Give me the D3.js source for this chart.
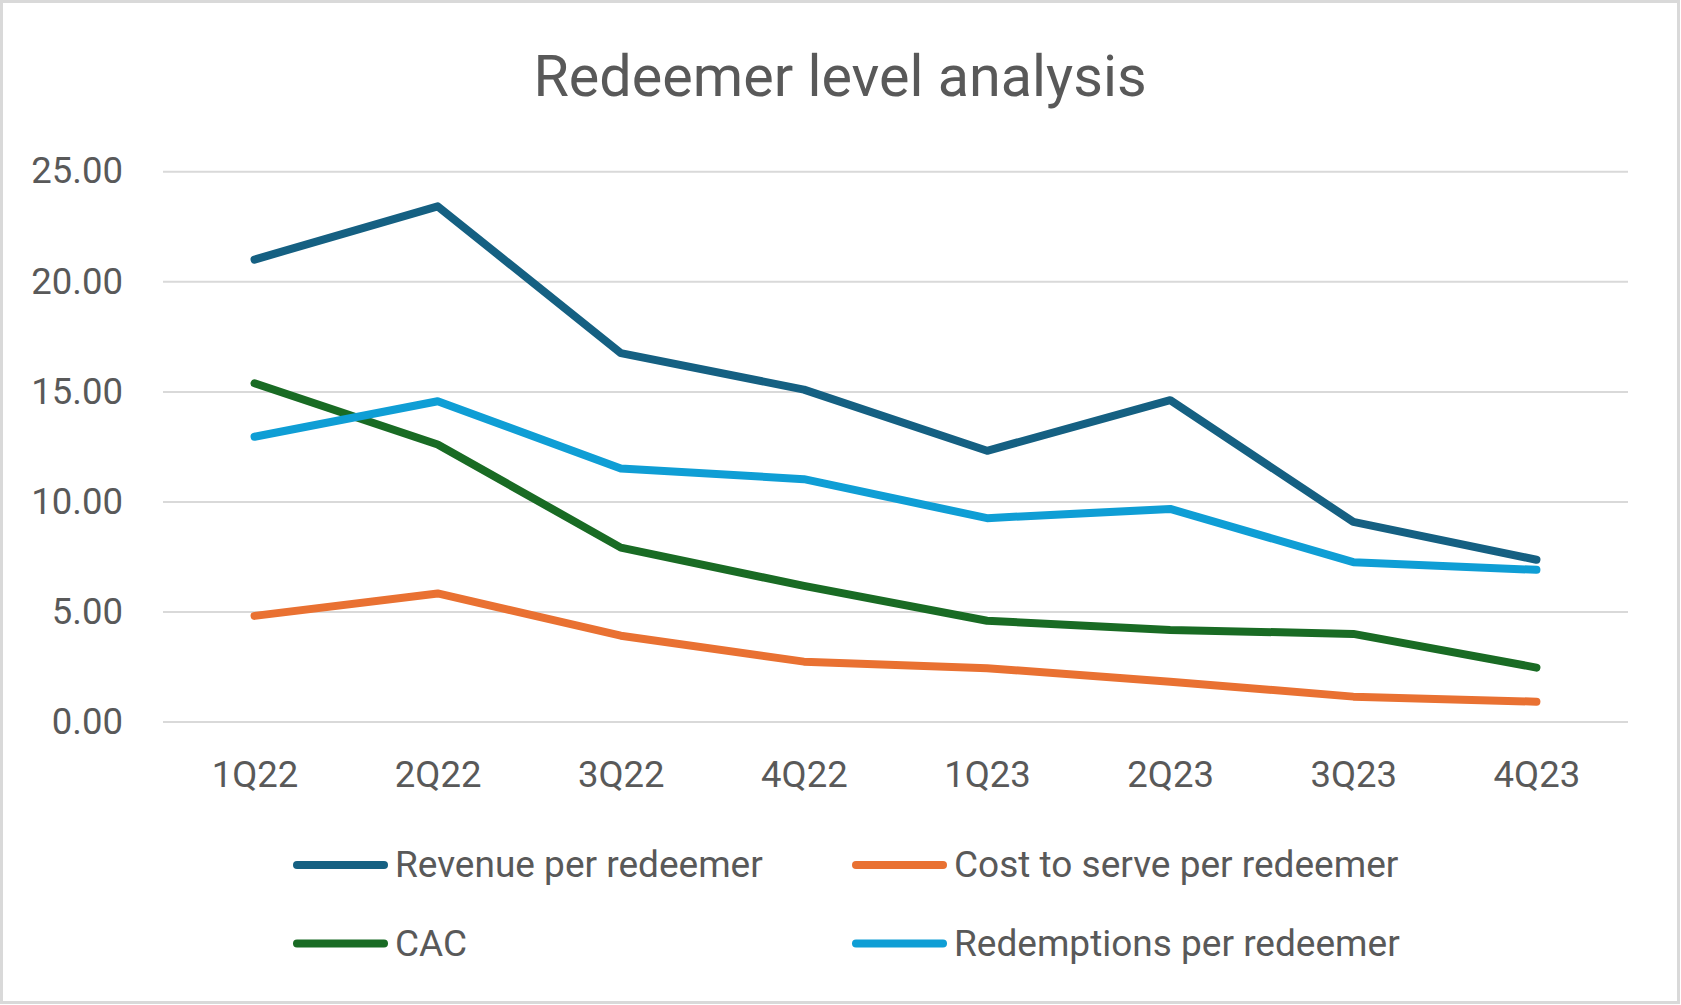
<!DOCTYPE html>
<html>
<head>
<meta charset="utf-8">
<script src="https://cdn.jsdelivr.net/npm/d3@7"></script>
<style>
  html, body { margin: 0; padding: 0; background: #fff; }
  svg { display: block; font-family: Roboto, "Noto Sans", sans-serif; }
</style>
</head>
<body>
<svg id="chart" width="1681" height="1005"></svg>
<script>
// quarters on the x axis
var quarters = ["1Q22", "2Q22", "3Q22", "4Q22", "1Q23", "2Q23", "3Q23", "4Q23"];

// series values
var revenuePerRedeemer = [20.99, 23.41, 16.74, 15.08, 12.30, 14.60, 9.07, 7.35];
var costToServe = [4.80, 5.82, 3.90, 2.72, 2.42, 1.81, 1.13, 0.90];
var cac = [15.37, 12.59, 7.90, 6.16, 4.58, 4.16, 3.98, 2.45];
var redemptionsPerRedeemer = [12.94, 14.55, 11.50, 11.01, 9.24, 9.66, 7.24, 6.89];

var seriesNames = ["Revenue per redeemer", "Cost to serve per redeemer", "CAC", "Redemptions per redeemer"];
var yTicks = [0, 5, 10, 15, 20, 25];

function drawChart()
{
    var svg = d3.select("#chart");
    const W = 1681, H = 1005;
    const left = 163, right = 1628, top = 171.3, bottom = 721.5;
    const textColor = "#595959";

    var series = [
        {name: seriesNames[0], values: revenuePerRedeemer, color: "#156082"},
        {name: seriesNames[1], values: costToServe, color: "#E97132"},
        {name: seriesNames[2], values: cac, color: "#196B24"},
        {name: seriesNames[3], values: redemptionsPerRedeemer, color: "#0F9ED5"}
    ];

    // outer frame
    svg.append("rect")
        .attr("x", 1.5).attr("y", 1.5)
        .attr("width", W - 4).attr("height", H - 4)
        .attr("fill", "#fff")
        .attr("stroke", "#d9d9d9")
        .attr("stroke-width", 3);

    // title
    svg.append("text")
        .attr("x", 840)
        .attr("y", 96)
        .attr("text-anchor", "middle")
        .style("font-size", "57.5px")
        .style("fill", textColor)
        .text("Redeemer level analysis");

    var xScale = d3.scalePoint()
        .domain(quarters)
        .range([left, right])
        .padding(0.5);

    var yScale = d3.scaleLinear()
        .domain([0, 25])
        .range([bottom, top]);

    // y axis with gridlines
    var yAxis = d3.axisLeft(yScale)
        .tickValues(yTicks)
        .tickFormat(d3.format(".2f"))
        .tickSize(-(right - left))
        .tickPadding(40);

    var gy = svg.append("g")
        .attr("transform", `translate(${left}, 0)`)
        .call(yAxis);
    gy.select(".domain").remove();
    gy.selectAll(".tick line")
        .attr("stroke", "#d9d9d9")
        .attr("stroke-width", 2);
    gy.selectAll(".tick text")
        .style("font-size", "36.5px")
        .style("font-family", "Roboto, sans-serif")
        .style("fill", textColor);

    // x axis labels
    var xAxis = d3.axisBottom(xScale).tickSize(0);
    var gx = svg.append("g")
        .attr("transform", `translate(0, ${bottom})`)
        .call(xAxis);
    gx.select(".domain").remove();
    gx.selectAll(".tick text")
        .attr("y", 65)
        .attr("dy", 0)
        .style("font-size", "36.5px")
        .style("font-family", "Roboto, sans-serif")
        .style("fill", textColor);

    // the lines
    var line = d3.line()
        .x(function (d, i) { return xScale(quarters[i]); })
        .y(function (d) { return yScale(d); });

    svg.selectAll(".series")
        .data(series)
        .enter().append("path")
        .attr("class", "series")
        .attr("d", function (s) { return line(s.values); })
        .attr("fill", "none")
        .attr("stroke", function (s) { return s.color; })
        .attr("stroke-width", 8)
        .attr("stroke-linejoin", "round")
        .attr("stroke-linecap", "round");

    // legend, two columns two rows
    var legendCols = [293, 852];
    var legendRows = [865, 943.5];
    var legend = svg.selectAll(".legend")
        .data(series)
        .enter().append("g")
        .attr("class", "legend")
        .attr("transform", function (s, i) {
            return `translate(${legendCols[i % 2]}, ${legendRows[Math.floor(i / 2)]})`;
        });

    legend.append("line")
        .attr("x1", 4).attr("x2", 91)
        .attr("y1", 0).attr("y2", 0)
        .attr("stroke", function (s) { return s.color; })
        .attr("stroke-width", 8)
        .attr("stroke-linecap", "round");

    legend.append("text")
        .attr("x", 102)
        .attr("y", 12)
        .style("font-size", "37px")
        .style("fill", textColor)
        .text(function (s) { return s.name; });
}

drawChart();
</script>
</body>
</html>
